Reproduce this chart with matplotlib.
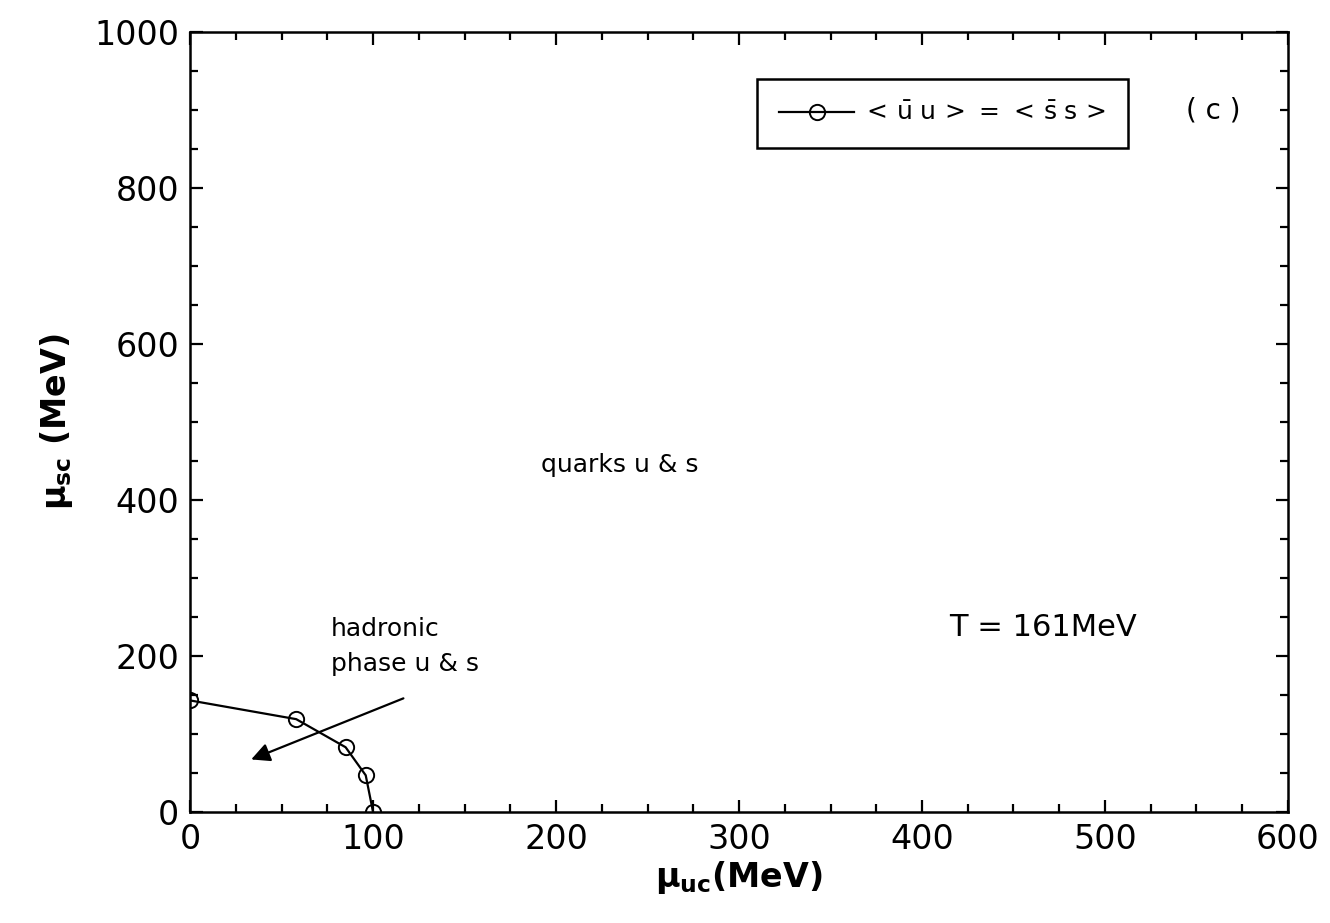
import matplotlib
matplotlib.use("Agg")
import matplotlib.pyplot as plt
from matplotlib.ticker import MultipleLocator

plt.rcParams['font.family'] = ['DejaVu Sans']
plt.rcParams['mathtext.default'] = 'regular'

# boundary <u-bar u> = <s-bar s> at T = 161 MeV
mu_uc = [0, 58, 85, 96, 100]
mu_sc = [143, 119, 83, 47, 0]
series_label = r'$<\,\bar{u}\;u\,>\,=\,<\,\bar{s}\;s\,>$'

fig = plt.figure(figsize=(13.3, 9.23), dpi=100)
ax = fig.add_axes([0.1429, 0.1203, 0.8255, 0.845])

ax.plot(mu_uc, mu_sc, color='black', lw=1.6, marker='o', ms=11,
        mfc='none', mec='black', mew=1.4, label=series_label)

ax.set_xlim(0, 600)
ax.set_ylim(0, 1000)
ax.xaxis.set_major_locator(MultipleLocator(100))
ax.xaxis.set_minor_locator(MultipleLocator(25))
ax.yaxis.set_major_locator(MultipleLocator(200))
ax.yaxis.set_minor_locator(MultipleLocator(50))
ax.tick_params(which='both', direction='in', top=True, right=True,
               labelsize=24, width=1.6, pad=8)
ax.tick_params(which='major', length=9)
ax.tick_params(which='minor', length=6)
for sp in ax.spines.values():
    sp.set_linewidth(1.8)

ax.set_xlabel(r'$\mathbf{\mu_{uc}}$' + '(MeV)', fontsize=24, fontweight='bold', labelpad=2)
ax.set_ylabel(r'$\mathbf{\mu_{sc}}$' + ' (MeV)', fontsize=24, fontweight='bold', labelpad=14)

ax.text(192, 445, 'quarks u & s', fontsize=18, va='center')
ax.text(77, 212, 'hadronic\nphase u & s', fontsize=18, va='center', linespacing=1.6)
ax.text(415, 236, 'T = 161MeV', fontsize=22, va='center')
ax.text(0.932, 0.899, '( c )', transform=ax.transAxes, fontsize=20,
        ha='center', va='center')

ax.annotate('', xy=(32, 66), xytext=(118, 147),
            arrowprops=dict(arrowstyle='-|>', color='black', lw=1.6,
                            mutation_scale=28))

leg = ax.legend(loc='upper left', bbox_to_anchor=(0.516, 0.94), fontsize=18,
                frameon=True, fancybox=False, edgecolor='black', framealpha=1,
                borderaxespad=0, handlelength=3.0, borderpad=0.9, handletextpad=0.3)
leg.get_frame().set_linewidth(1.8)

fig.savefig('out.png', dpi=100)
